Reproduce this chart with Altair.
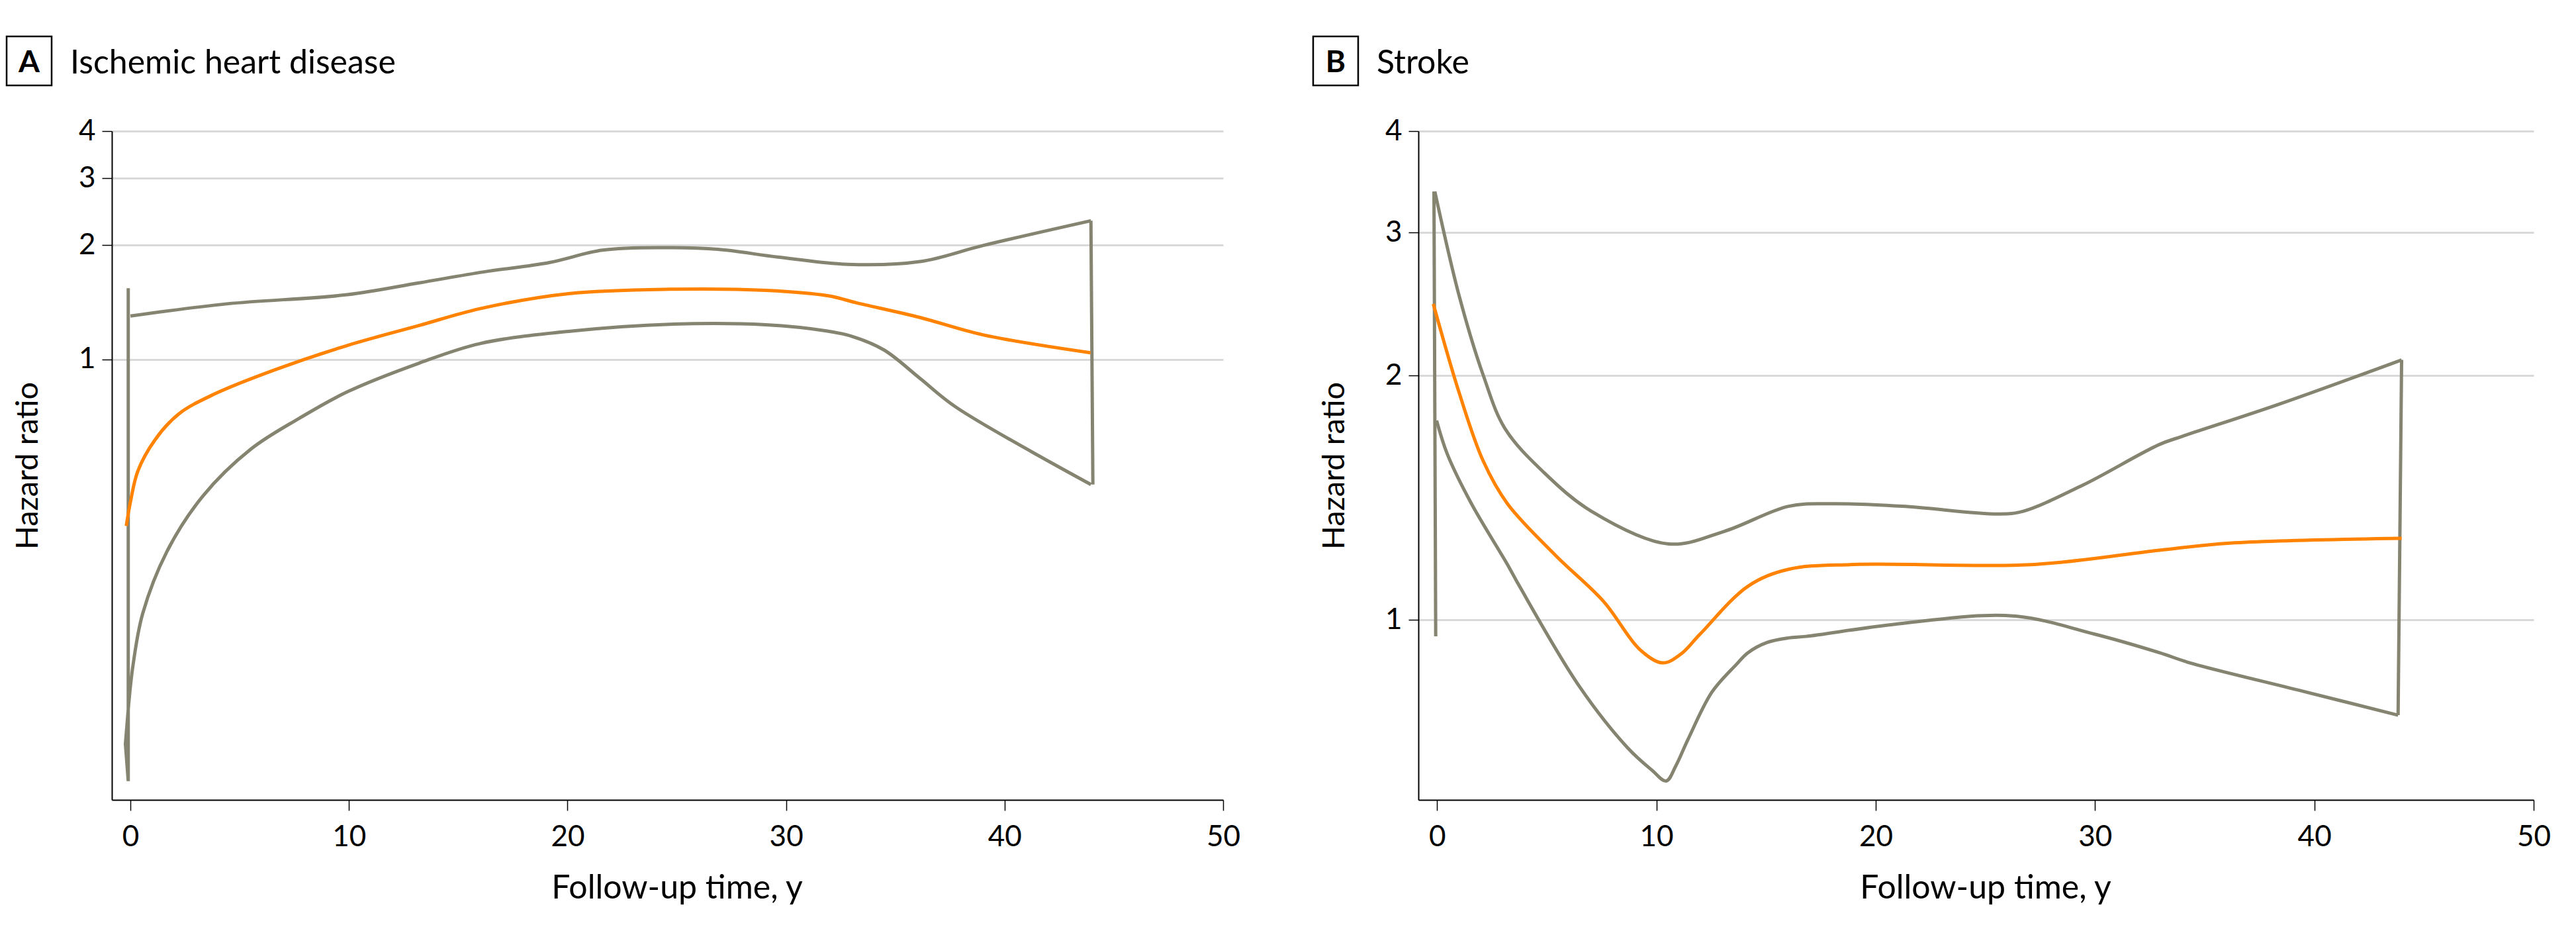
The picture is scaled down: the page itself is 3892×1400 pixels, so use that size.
import altair as alt
import pandas as pd

FONT = "Lato"
GRAY = "#858470"
ORANGE = "#ff8200"

# ---------------- Panel A: Ischemic heart disease ----------------
A_est_t = [-0.19, 0.0, 0.34, 1.11, 2.21, 3.86, 6.62, 9.92, 13.2, 16.0, 20.05, 24.68, 29.08, 31.94, 33.2, 36.1, 39.0, 43.93]
A_est_hr = [0.363, 0.42, 0.507, 0.611, 0.717, 0.81, 0.938, 1.087, 1.227, 1.36, 1.49, 1.53, 1.52, 1.47, 1.41, 1.29, 1.16, 1.04]

A_up_t = [0.0, 4.41, 9.92, 13.2, 16.17, 19.17, 21.6, 24.45, 26.88, 29.63, 32.82, 36.13, 39.0, 43.95]
A_up_hr = [1.30, 1.40, 1.48, 1.59, 1.70, 1.80, 1.94, 1.97, 1.95, 1.86, 1.78, 1.81, 1.995, 2.32]

A_lo_t = [-0.08, 0.12, 0.56, 1.66, 3.31, 5.51, 7.72, 9.92, 13.2, 16.0, 20.27, 24.68, 29.08, 31.84, 33.0, 34.48, 36.13, 37.78, 43.95]
A_lo_hr = [0.123, 0.156, 0.213, 0.31, 0.435, 0.579, 0.698, 0.82, 0.976, 1.10, 1.188, 1.237, 1.233, 1.188, 1.15, 1.058, 0.89, 0.747, 0.467]

A_left_t = [-0.08, -0.23, -0.1, -0.1]
A_left_hr = [0.123, 0.0965, 0.077, 1.54]
A_right_t = [43.95, 44.04]
A_right_hr = [2.32, 0.467]

# ---------------- Panel B: Stroke ----------------
B_est_t = [-0.17, 1.02, 2.11, 3.21, 5.41, 7.60, 9.25, 10.29, 11.11, 11.99, 14.18, 16.03, 19.02, 27.25, 32.93, 36.15, 43.98]
B_est_hr = [2.45, 1.90, 1.568, 1.39, 1.20, 1.053, 0.919, 0.885, 0.907, 0.96, 1.10, 1.154, 1.17, 1.17, 1.218, 1.243, 1.26]

B_up_t = [-0.1, 1.02, 2.11, 3.10, 4.86, 7.05, 10.56, 13.09, 16.03, 17.92, 21.21, 25.6, 26.7, 29.44, 32.93, 33.99, 38.31, 43.98]
B_up_hr = [3.37, 2.50, 2.00, 1.72, 1.52, 1.36, 1.24, 1.285, 1.38, 1.39, 1.38, 1.35, 1.36, 1.465, 1.644, 1.683, 1.84, 2.09]

B_lo_t = [-0.02, 0.47, 1.57, 3.21, 3.76, 6.50, 8.70, 9.79, 10.45, 10.89, 11.44, 12.54, 13.63, 14.18, 15.06, 16.03, 16.82, 21.21, 26.26, 29.99, 32.93, 34.33, 39.44, 43.82]
B_lo_hr = [1.76, 1.60, 1.39, 1.17, 1.10, 0.827, 0.695, 0.653, 0.633, 0.661, 0.712, 0.815, 0.88, 0.911, 0.938, 0.95, 0.954, 0.99, 1.011, 0.96, 0.911, 0.885, 0.817, 0.763]

B_left_t = [-0.06, -0.14]
B_left_hr = [0.954, 3.37]
B_right_t = [43.98, 43.82]
B_right_hr = [2.09, 0.763]

X_TICKS = [0, 10, 20, 30, 40, 50]
Y_TICKS = [1, 2, 3, 4]
X_DOMAIN = [-0.85, 50]


def panel(letter, title, est, up, lo, segs, ydomain, width, height):
    est_df = pd.DataFrame({"t": est[0], "hr": est[1]})
    ci_df = pd.DataFrame({
        "t": list(up[0]) + list(lo[0]),
        "hr": list(up[1]) + list(lo[1]),
        "part": ["upper"] * len(up[0]) + ["lower"] * len(lo[0]),
    })
    rows = []
    for sid, (ts, hs) in enumerate(segs):
        for i, (t, h) in enumerate(zip(ts, hs)):
            rows.append({"t": t, "hr": h, "seg": sid, "i": i})
    seg_df = pd.DataFrame(rows)

    title_x = (25 - X_DOMAIN[0]) / (X_DOMAIN[1] - X_DOMAIN[0]) * width

    x = alt.X("t:Q", scale=alt.Scale(domain=X_DOMAIN, nice=False, zero=False),
              axis=alt.Axis(values=X_TICKS, format="d", title="Follow-up time, y", grid=False,
                            domainColor="black", domainWidth=2, tickColor="black", tickWidth=1.5,
                            tickSize=16, labelFont=FONT, labelFontSize=44, labelColor="black",
                            labelPadding=18, labelFlush=False, labelOverlap=False,
                            titleFont=FONT, titleFontSize=50, titleFontWeight="normal",
                            titleColor="black", titlePadding=30, titleX=title_x))
    y = alt.Y("hr:Q", scale=alt.Scale(type="log", domain=ydomain, nice=False, zero=False),
              axis=alt.Axis(values=Y_TICKS, format="d", title="Hazard ratio", grid=True,
                            gridColor="#d9d9d9", gridWidth=3, domainColor="black", domainWidth=2,
                            tickColor="black", tickWidth=1.5, tickSize=15, labelFont=FONT,
                            labelFontSize=44, labelColor="black", labelPadding=10,
                            labelOverlap=False, titleFont=FONT, titleFontSize=47,
                            titleFontWeight="normal", titleColor="black", titlePadding=52))

    ci = alt.Chart(ci_df).mark_line(interpolate="catmull-rom", color=GRAY, strokeWidth=5).encode(
        x=x, y=y, detail="part:N")
    seg = alt.Chart(seg_df).mark_line(color=GRAY, strokeWidth=5).encode(
        x=x, y=y, detail="seg:N", order="i:Q")
    line = alt.Chart(est_df).mark_line(interpolate="catmull-rom", color=ORANGE, strokeWidth=5).encode(
        x=x, y=y)

    dummy = pd.DataFrame({"k": [0]})
    box = alt.Chart(dummy).mark_rect(fillOpacity=0, stroke="black", strokeWidth=2.5).encode(
        x=alt.value(-159), x2=alt.value(-91), y=alt.value(-143), y2=alt.value(-69))
    let = alt.Chart(dummy).mark_text(font=FONT, fontSize=46, fontWeight="bold", align="center",
                                     baseline="alphabetic", color="black").encode(
        x=alt.value(-125), y=alt.value(-89), text=alt.value(letter))
    ttl = alt.Chart(dummy).mark_text(font=FONT, fontSize=50, align="left",
                                     baseline="alphabetic", color="black").encode(
        x=alt.value(-63), y=alt.value(-87), text=alt.value(title))

    return alt.layer(ci, seg, line, box, let, ttl).properties(width=width, height=height)


pA = panel("A", "Ischemic heart disease", (A_est_t, A_est_hr), (A_up_t, A_up_hr), (A_lo_t, A_lo_hr),
           [(A_left_t, A_left_hr), (A_right_t, A_right_hr)], [0.0687, 4], 1679, 1010)
pB = panel("B", "Stroke", (B_est_t, B_est_hr), (B_up_t, B_up_hr), (B_lo_t, B_lo_hr),
           [(B_left_t, B_left_hr), (B_right_t, B_right_hr)], [0.60, 4], 1685, 1010)

chart = alt.hconcat(pA, pB, spacing=108).properties(
    padding={"left": 0, "top": 45, "right": 5, "bottom": 5}
).configure_view(stroke=None)

chart.save("out.html", embed_options={"renderer": "svg", "actions": False})
